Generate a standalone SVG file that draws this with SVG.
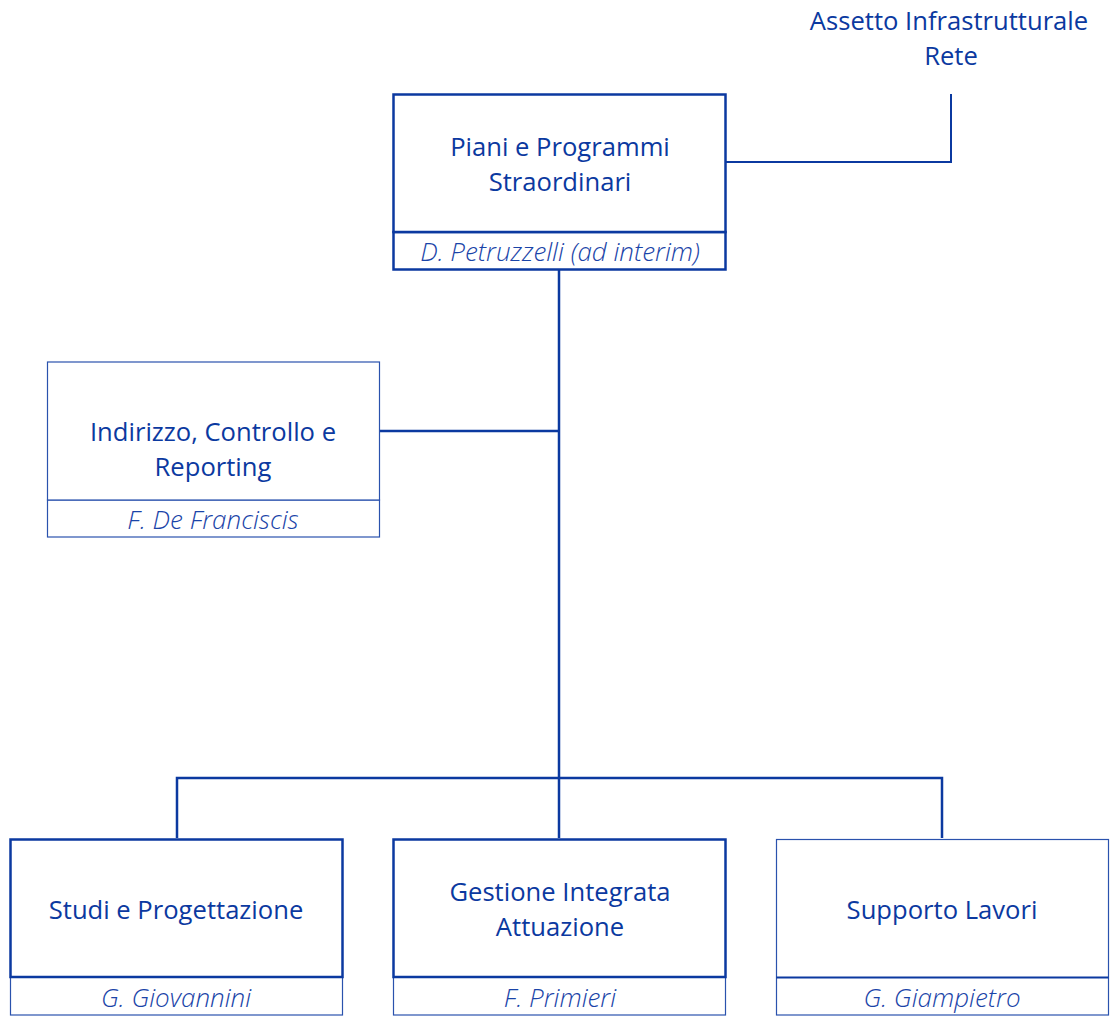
<svg xmlns="http://www.w3.org/2000/svg" width="1114" height="1024" viewBox="0 0 1114 1024">
<style>
.t{font-family:"Open Sans","Noto Sans","Liberation Sans",sans-serif;font-size:25.6px;fill:#0b39a0;text-anchor:middle}
.n{font-family:"Open Sans","Noto Sans","Liberation Sans",sans-serif;font-size:26px;font-style:italic;font-weight:300;fill:#1a44a8;text-anchor:middle}
.thick{fill:#fff;stroke:#0b39a0;stroke-width:2.5}
.thin{fill:#fff;stroke:#2a52ad;stroke-width:1.2}
.c{fill:none;stroke:#0b39a0;stroke-width:2.5}
.c2{fill:none;stroke:#0b39a0;stroke-width:2}
</style>
<rect width="1114" height="1024" fill="#fff"/>
<g id="connectors">
<path class="c" d="M559 270 V778"/>
<path class="c" d="M380 431 H559"/>
<path class="c" d="M177 838 V778 H942 V838"/>
<path class="c" d="M559 778 V838"/>
<path class="c2" d="M726 162 H951 V94"/>
</g>
<g id="assetto">
<text class="t" x="949" y="30">Assetto Infrastrutturale</text>
<text class="t" x="951" y="65">Rete</text>
</g>
<g id="piani">
<rect class="thick" x="393.5" y="232" width="332" height="37.5"/>
<rect class="thick" x="393.5" y="94.5" width="332" height="137.5"/>
<text class="t" x="560" y="156">Piani e Programmi</text>
<text class="t" x="560" y="191">Straordinari</text>
<text class="n" x="560" y="261">D. Petruzzelli (ad interim)</text>
</g>
<g id="indirizzo">
<rect class="thin" x="47.5" y="500" width="332" height="37"/>
<rect class="thin" x="47.5" y="362" width="332" height="138"/>
<text class="t" x="213" y="441">Indirizzo, Controllo e</text>
<text class="t" x="213" y="476">Reporting</text>
<text class="n" x="213" y="529">F. De Franciscis</text>
</g>
<g id="studi">
<rect class="thin" x="10.5" y="977" width="332" height="38"/>
<rect class="thick" x="10.5" y="839.5" width="332" height="137.5"/>
<text class="t" x="176" y="919">Studi e Progettazione</text>
<text class="n" x="176" y="1007">G. Giovannini</text>
</g>
<g id="gestione">
<rect class="thin" x="393.5" y="977" width="332" height="38"/>
<rect class="thick" x="393.5" y="839.5" width="332" height="137.5"/>
<text class="t" x="560" y="901">Gestione Integrata</text>
<text class="t" x="560" y="936">Attuazione</text>
<text class="n" x="560" y="1007">F. Primieri</text>
</g>
<g id="supporto">
<rect class="thin" x="776.5" y="839.5" width="332" height="175.5"/>
<path class="c2" d="M776.5 977.5 H1108.5"/>
<text class="t" x="942" y="919">Supporto Lavori</text>
<text class="n" x="942" y="1007">G. Giampietro</text>
</g>
</svg>
